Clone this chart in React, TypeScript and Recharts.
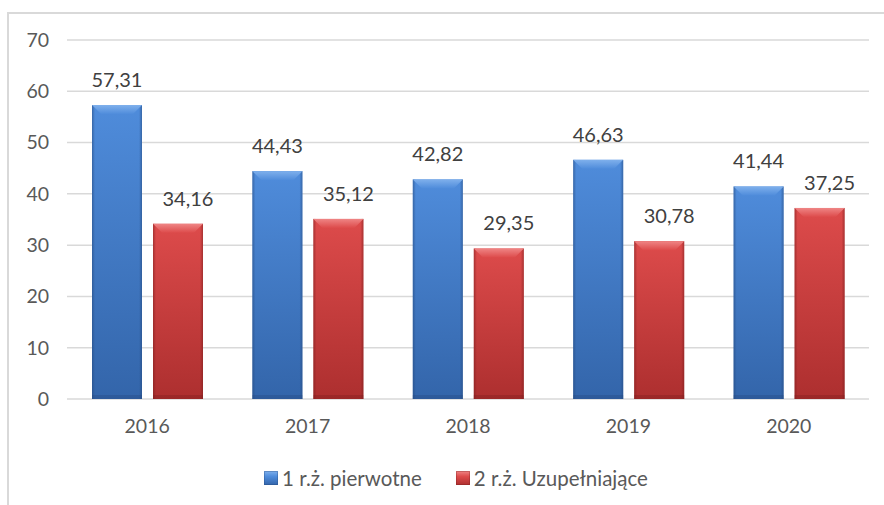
import React from 'react';
import { BarChart, Bar, XAxis, YAxis, CartesianGrid, Legend, LabelList } from 'recharts';

const years = ['2016', '2017', '2018', '2019', '2020'];
const primary = [57.31, 44.43, 42.82, 46.63, 41.44];
const supplementary = [34.16, 35.12, 29.35, 30.78, 37.25];
const yTicks = [0, 10, 20, 30, 40, 50, 60, 70];
const seriesNames = ['1 r.ż. pierwotne', '2 r.ż. Uzupełniające'];

const data = years.map((y, i) => ({ year: y, a: primary[i], b: supplementary[i] }));

const FONT = 'Lato, "Open Sans", sans-serif';

const palettes: Record<string, { top: string; bottom: string; edge: string; bevel: string }> = {
  blue: { top: '#4f8cdb', bottom: '#3365aa', edge: '#24497e', bevel: '#7fb0ec' },
  red: { top: '#dd4b4b', bottom: '#ad2f2f', edge: '#7c1e1e', bevel: '#ef8585' },
};

const makeShape = (key: string) => (props: any) => {
  const { x, y, width, height } = props;
  if (!height || height <= 0) return null;
  const b = Math.min(9, height / 2);
  return (
    <g>
      <rect x={x} y={y} width={width} height={height} fill={`url(#grad-${key})`} />
      <rect x={x} y={y} width={width} height={height} fill={`url(#side-${key})`} />
      <polygon
        points={`${x},${y} ${x + width},${y} ${x + width - b},${y + b} ${x + b},${y + b}`}
        fill={`url(#bevel-${key})`}
      />
      <rect x={x} y={y + height - 4} width={width} height={4} fill={palettes[key].edge} opacity={0.35} />
    </g>
  );
};

const makeLabel = (dx: number) => (props: any) => {
  const { x, y, width, value } = props;
  return (
    <text
      x={x + width / 2 + dx}
      y={y - 18}
      textAnchor="middle"
      fill="#404040"
      fontSize={20}
      fontFamily={FONT}
    >
      {String(value).replace('.', ',')}
    </text>
  );
};

const LegendContent = () => {
  const items = [
    { name: seriesNames[0], key: 'blue' },
    { name: seriesNames[1], key: 'red' },
  ];
  return (
    <div
      style={{
        display: 'flex',
        justifyContent: 'center',
        alignItems: 'center',
        paddingLeft: 43,
        fontFamily: FONT,
        fontSize: 20.5,
        color: '#595959',
        height: 24,
      }}
    >
      {items.map((it, i) => (
        <div key={it.key} style={{ display: 'flex', alignItems: 'center', marginRight: i === 0 ? 34 : 0 }}>
          <span
            style={{
              display: 'inline-block',
              width: 14,
              height: 14,
              marginRight: 4,
              background: `linear-gradient(${palettes[it.key].bevel}, ${palettes[it.key].top} 40%, ${palettes[it.key].bottom})`,
              boxShadow: `inset 0 0 0 1px ${palettes[it.key].edge}55`,
            }}
          />
          <span>{it.name}</span>
        </div>
      ))}
    </div>
  );
};

export default function App() {
  return (
    <div style={{ position: 'absolute', left: 0, top: 0, width: 884, height: 505, background: '#fff' }}>
      <div
        style={{
          position: 'absolute',
          left: 7,
          top: 12,
          width: 877,
          height: 493,
          borderLeft: '2px solid #d9d9d9',
          borderTop: '2px solid #d9d9d9',
          boxSizing: 'border-box',
        }}
      />
      <div style={{ position: 'absolute', left: 0, top: 0 }}>
        <BarChart
          width={884}
          height={505}
          data={data}
          margin={{ top: 40, right: 15, bottom: 15, left: 0 }}
          barGap={11}
          barSize={50}
        >
          <defs>
            {Object.keys(palettes).map((k) => (
              <React.Fragment key={k}>
                <linearGradient id={`grad-${k}`} x1="0" y1="0" x2="0" y2="1">
                  <stop offset="0%" stopColor={palettes[k].top} />
                  <stop offset="100%" stopColor={palettes[k].bottom} />
                </linearGradient>
                <linearGradient id={`side-${k}`} x1="0" y1="0" x2="1" y2="0">
                  <stop offset="0%" stopColor={palettes[k].edge} stopOpacity={0.55} />
                  <stop offset="6%" stopColor={palettes[k].edge} stopOpacity={0} />
                  <stop offset="94%" stopColor={palettes[k].edge} stopOpacity={0} />
                  <stop offset="100%" stopColor={palettes[k].edge} stopOpacity={0.55} />
                </linearGradient>
                <linearGradient id={`bevel-${k}`} x1="0" y1="0" x2="0" y2="1">
                  <stop offset="0%" stopColor={palettes[k].bevel} />
                  <stop offset="100%" stopColor={palettes[k].top} />
                </linearGradient>
              </React.Fragment>
            ))}
          </defs>
          <CartesianGrid vertical={false} stroke="#d9d9d9" strokeWidth={1.5} />
          <XAxis
            dataKey="year"
            axisLine={false}
            tickLine={false}
            tickSize={0}
            tickMargin={20}
            height={67}
            tick={{ fill: '#595959', fontSize: 19.5, fontFamily: FONT }}
          />
          <YAxis
            domain={[0, 70]}
            ticks={yTicks}
            axisLine={false}
            tickLine={false}
            tickSize={0}
            tickMargin={18}
            width={67}
            interval={0}
            tick={{ fill: '#595959', fontSize: 19.5, fontFamily: FONT }}
          />
          <Legend verticalAlign="bottom" height={24} content={<LegendContent />} />
          <Bar dataKey="a" name={seriesNames[0]} shape={makeShape('blue')} isAnimationActive={false}>
            <LabelList dataKey="a" content={makeLabel(0)} />
          </Bar>
          <Bar dataKey="b" name={seriesNames[1]} shape={makeShape('red')} isAnimationActive={false}>
            <LabelList dataKey="b" content={makeLabel(10)} />
          </Bar>
        </BarChart>
      </div>
    </div>
  );
}
